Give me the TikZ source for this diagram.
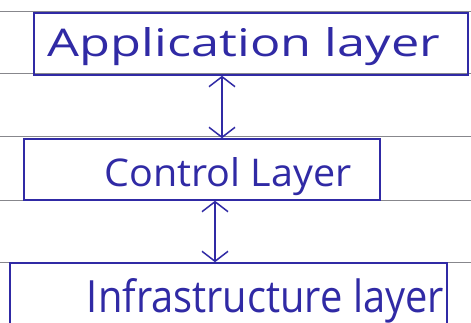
\documentclass[tikz,border=0pt]{standalone}
\usepackage{fontspec}
\setmainfont{Open Sans}
\usetikzlibrary{arrows.meta}
\definecolor{ink}{RGB}{48,42,165}
\definecolor{rulegray}{RGB}{135,135,140}
\newcommand{\hw}[3]{\raisebox{0pt}[#2][0pt]{\resizebox{#1}{#2}{\fontsize{30}{30}\selectfont #3}}}
\begin{document}
\begin{tikzpicture}[x=1pt,y=-1pt,
  layerbox/.style={draw=ink, line width=1.5pt, rectangle, inner sep=0pt},
  labtext/.style={text=ink, inner sep=0pt},
  ruleline/.style={draw=rulegray, line width=0.7pt},
  arr/.style={draw=ink, line width=1.5pt,
    {Straight Barb[length=10pt,width=26pt,line width=1.5pt]}-{Straight Barb[length=10pt,width=26pt,line width=1.5pt]}}]
\useasboundingbox (0,0) rectangle (471,323);
\clip (0,0) rectangle (471,323);
\fill[white] (0,0) rectangle (471,323);
\foreach \yy in {11,73,136,200,262} \draw[ruleline] (0,\yy) -- (471,\yy);
\node[layerbox, minimum width=434pt, minimum height=62pt,
  label={[labtext, xshift=-7pt, yshift=1.5pt]center:\hw{392pt}{29pt}{Application layer}}] (app) at (251,44) {};
\node[layerbox, minimum width=356pt, minimum height=61pt,
  label={[labtext, xshift=26pt, yshift=-3pt]center:\hw{247pt}{29pt}{Control Layer}}] (ctrl) at (202,169.5) {};
\node[layerbox, minimum width=437pt, minimum height=72pt,
  label={[labtext, xshift=37pt, yshift=4pt]center:\hw{357pt}{34pt}{Infrastructure layer}}] (infra) at (228.5,299) {};
\draw[arr] (app.south -| 222,0) -- (ctrl.north -| 222,0);
\draw[arr] (ctrl.south -| 215,0) -- (infra.north -| 215,0);
\end{tikzpicture}
\end{document}
